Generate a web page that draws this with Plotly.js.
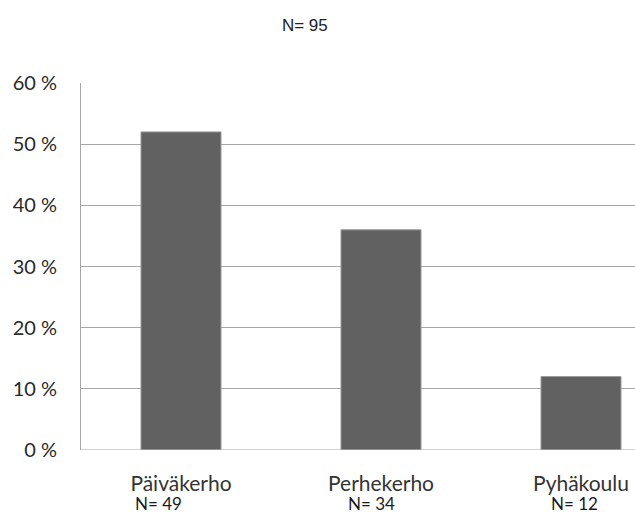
<!DOCTYPE html>
<html><head><meta charset="utf-8">
<script src="https://cdn.plot.ly/plotly-3.0.1.min.js"></script>
<style>html,body{margin:0;padding:0;background:#fff}</style>
</head><body>
<div id="chart" style="width:635px;height:516px"></div>
<script>
const categories = ["Päiväkerho", "Perhekerho", "Pyhäkoulu"];
const counts = [49, 34, 12];
const percents = [52, 36, 12];
const totalN = 95;
const yTicks = [0, 10, 20, 30, 40, 50, 60];

// small horizontal nudges of the "N=" lines, as in the original layout
const nLineShift = {"Päiväkerho": -23, "Perhekerho": -10, "Pyhäkoulu": -7};

const nAnnotations = categories.map((c, i) => ({
  x: c, xref: "x", y: 0, yref: "paper",
  text: "N= " + counts[i], showarrow: false,
  xanchor: "center", yanchor: "bottom",
  xshift: nLineShift[c], yshift: -66,
  font: {family: "Lato, Open Sans, sans-serif", size: 17, color: "#1a1a1a"}
}));

Plotly.newPlot("chart", [{
  type: "bar",
  x: categories,
  y: percents,
  width: 0.4,
  marker: {color: "#616161", line: {color: "#9a9a9a", width: 1}},
  hoverinfo: "none"
}], {
  width: 635, height: 516,
  margin: {l: 81, r: 0, t: 83, b: 66},
  paper_bgcolor: "#fff", plot_bgcolor: "#fff",
  title: {text: "N= " + totalN, x: 0.48, xref: "container", xanchor: "center",
          y: 0.951, yref: "container", yanchor: "middle",
          font: {family: "Liberation Sans, Arial", size: 17, color: "#222"}},
  showlegend: false,
  xaxis: {
    type: "category", range: [-0.5, 2.27],
    tickmode: "array", tickvals: categories, ticktext: categories,
    ticks: "", showgrid: false, zeroline: false,
    showline: false,
    ticklabelstandoff: 19,
    tickfont: {family: "Lato, Open Sans, sans-serif", size: 21, color: "#333"}
  },
  yaxis: {
    range: [0, 60], tickmode: "array", tickvals: yTicks,
    ticktext: yTicks.map(v => v + " %"),
    showgrid: true, gridcolor: "#a6a6a6", gridwidth: 1,
    zeroline: false, showline: true, linecolor: "#a6a6a6", linewidth: 1,
    ticks: "", ticklabelstandoff: 19,
    tickfont: {family: "Lato, Open Sans, sans-serif", size: 20, color: "#2a2a2a"}
  },
  annotations: nAnnotations,
  shapes: [{type: "line", xref: "paper", yref: "y", x0: 0, x1: 1, y0: 0, y1: 0,
            line: {color: "#a6a6a6", width: 1}, layer: "above"}]
}, {displayModeBar: false, staticPlot: true});
</script>
</body></html>
